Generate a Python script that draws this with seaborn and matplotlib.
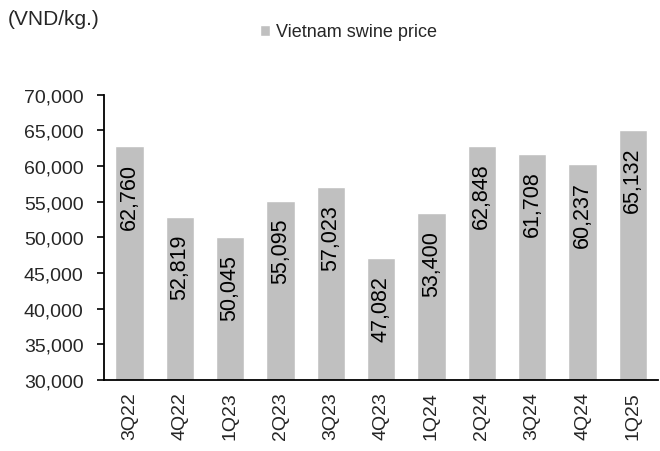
import numpy as np
import pandas as pd
import matplotlib
matplotlib.use("Agg")
import matplotlib.pyplot as plt
import seaborn as sns
from matplotlib.ticker import FuncFormatter, FixedLocator

#Chart data
quarters = ['3Q22', '4Q22', '1Q23', '2Q23', '3Q23', '4Q23', '1Q24', '2Q24', '3Q24', '4Q24', '1Q25']
prices = [62760, 52819, 50045, 55095, 57023, 47082, 53400, 62848, 61708, 60237, 65132]
series_name = 'Vietnam swine price'
unit_label = '(VND/kg.)'

df = pd.DataFrame({'Quarter': quarters, 'Price': prices})

sns.set_style('white')
plt.rcParams['font.family'] = ['Liberation Sans', 'DejaVu Sans']

fig = plt.figure(figsize=(6.6, 4.52), dpi=100)
ax = fig.add_axes([0.158, 0.157, 0.839, 0.631])

bar_color = '#C0C0C0'
sns.barplot(data=df, x='Quarter', y='Price', color=bar_color, width=0.56,
            saturation=1, ax=ax, label=series_name)

#Value labels inside bars, rotated
for i, v in enumerate(prices):
    ax.annotate(f'{v:,}', xy=(i, v), xytext=(0, -12), textcoords='offset points',
                rotation=90, ha='center', va='top', fontsize=15.5, color='black')

ax.set_ylim(30000, 70000)
ax.set_yticks(np.arange(30000, 70001, 5000))
ax.yaxis.set_major_formatter(FuncFormatter(lambda v, p: f'{int(v):,}'))
ax.set_xlim(-0.5, len(quarters) - 0.5)
ax.set_xlabel('')
ax.set_ylabel('')

#Tick labels at centers, tick marks at category boundaries
ax.tick_params(axis='x', which='major', length=0, labelsize=14, labelrotation=90, pad=8)
ax.xaxis.set_minor_locator(FixedLocator(np.arange(-0.5, len(quarters), 1.0)))
ax.tick_params(axis='x', which='minor', length=5, width=1.2, color='black', direction='out')
ax.tick_params(axis='y', which='major', length=5, width=1.2, color='black', direction='out',
               labelsize=14, left=True, pad=10)

for side in ['top', 'right']:
    ax.spines[side].set_visible(False)
for side in ['left', 'bottom']:
    ax.spines[side].set_color('black')
    ax.spines[side].set_linewidth(1.3)

ax.legend(loc='center', bbox_to_anchor=(0.528, 0.927), bbox_transform=fig.transFigure,
          frameon=False, fontsize=13, handlelength=0.55, handleheight=0.55, handletextpad=0.3)

fig.text(0.012, 0.956, unit_label, fontsize=15, ha='left', va='center')

fig.savefig('out.png', dpi=100)
